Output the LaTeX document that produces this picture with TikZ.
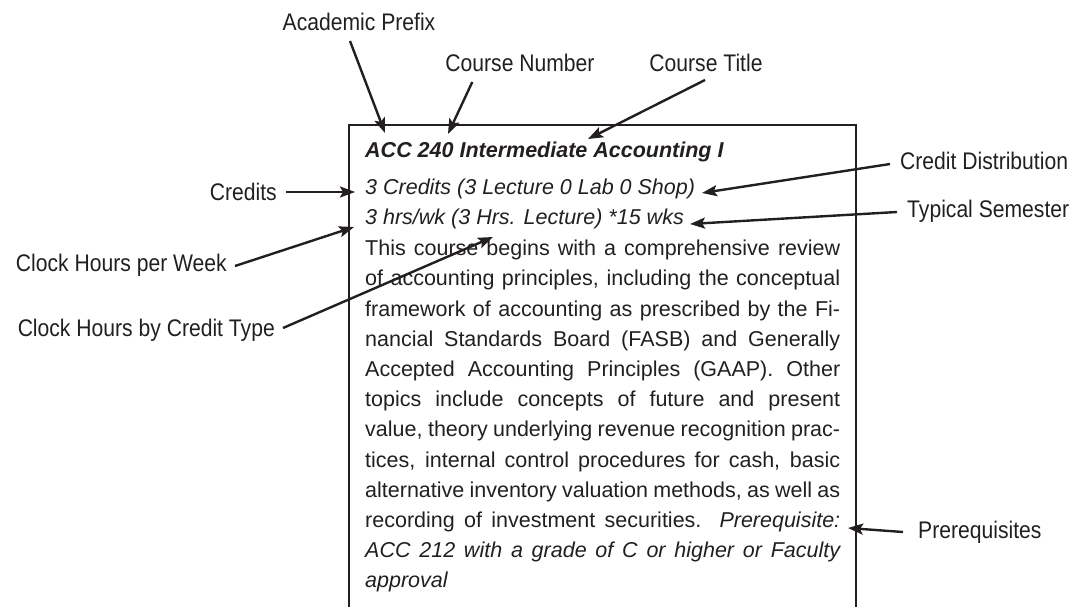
\documentclass[tikz,border=0pt]{standalone}
\usepackage{fontspec}
\setmainfont{Liberation Sans}
\newfontfamily\lblfont[FakeStretch=0.88]{Liberation Sans}
\usetikzlibrary{arrows.meta}
\definecolor{ink}{HTML}{231F20}
\tikzset{
  lbl/.style={font=\lblfont\fontsize{24}{28}\selectfont, inner sep=0pt, text=ink},
  bodyline/.style={font=\fontsize{21.5}{25}\selectfont, inner sep=0pt, anchor=mid west, text=ink},
  arr/.style={line width=2.4pt, draw=ink, -{Stealth[length=15pt,width=11pt,inset=3pt]}},
  frame/.style={line width=2.8pt, draw=ink},
}
\newcommand{\jline}[1]{\makebox[475pt][s]{#1}}
\begin{document}
\begin{tikzpicture}[x=1pt,y=-1pt]
\useasboundingbox (0,0) rectangle (1076,607);
% open frame
\draw[frame] (349,608) -- (349,125) -- (856,125) -- (856,608);
% body text
\node[bodyline] (t1) at (365,155) {\bfseries\itshape ACC 240 Intermediate Accounting I};
\node[bodyline] (t2) at (365,192) {\itshape 3 Credits (3 Lecture 0 Lab 0 Shop)};
\node[bodyline] (t3) at (365,222) {\itshape 3 hrs/wk (3 Hrs. Lecture) *15 wks};
\node[bodyline] (b1) at (365,253.0) {\jline{This course begins with a comprehensive review}};
\node[bodyline] (b2) at (365,283.2) {\jline{of accounting principles, including the conceptual}};
\node[bodyline] (b3) at (365,313.4) {\jline{framework of accounting as prescribed by the Fi-}};
\node[bodyline] (b4) at (365,343.6) {\jline{nancial Standards Board (FASB) and Generally}};
\node[bodyline] (b5) at (365,373.8) {\jline{Accepted Accounting Principles (GAAP). Other}};
\node[bodyline] (b6) at (365,404.0) {\jline{topics include concepts of future and present}};
\node[bodyline] (b7) at (365,434.2) {\jline{value, theory underlying revenue recognition prac-}};
\node[bodyline] (b8) at (365,464.4) {\jline{tices, internal control procedures for cash, basic}};
\node[bodyline] (b9) at (365,494.6) {\jline{alternative inventory valuation methods, as well as}};
\node[bodyline] (b10) at (365,524.8) {\jline{recording of investment securities. \textit{Prerequisite:}}};
\node[bodyline] (b11) at (365,555.0) {\jline{\itshape ACC 212 with a grade of C or higher or Faculty}};
\node[bodyline] (b12) at (365,585.2) {\itshape approval};
% labels
\node[lbl] (ap) at (359,22) {Academic Prefix};
\node[lbl] (cn) at (520,63) {Course Number};
\node[lbl] (ct) at (706,63) {Course Title};
\node[lbl,anchor=east] (cr) at (277,192) {Credits};
\node[lbl,anchor=east] (chw) at (227,265) {Clock Hours per Week};
\node[lbl,anchor=east] (chc) at (275,330) {Clock Hours by Credit Type};
\node[lbl,anchor=west] (cd) at (900,161) {Credit Distribution};
\node[lbl,anchor=west] (ts) at (907,211) {Typical Semester};
\node[lbl,anchor=west] (pr) at (918,532) {Prerequisites};
% arrow tips
\coordinate (apT) at (385,133);
\coordinate (cnT) at (448,134);
\coordinate (ctT) at (588,139);
\coordinate (crT) at (355,192);
\coordinate (chwT) at (354,227);
\coordinate (chcT) at (493,237);
\coordinate (cdT) at (702,193);
\coordinate (tsT) at (690,224);
\coordinate (prT) at (848,528);
% connectors
\draw[arr] ([shift={(-9,10)}]ap.south) -- (apT);
\draw[arr] ([shift={(27,10)}]cn.south west) -- (cnT);
\draw[arr] ([shift={(-1,8)}]ct.south) -- (ctT);
\draw[arr] ([shift={(9,0)}]cr.east) -- (crT);
\draw[arr] ([shift={(8,1)}]chw.east) -- (chwT);
\draw[arr] ([shift={(8,-2)}]chc.east) -- (chcT);
\draw[arr] ([shift={(-10,3)}]cd.west) -- (cdT);
\draw[arr] ([shift={(-10,1)}]ts.west) -- (tsT);
\draw[arr] ([shift={(-15,0)}]pr.west) -- (prT);
\end{tikzpicture}
\end{document}
